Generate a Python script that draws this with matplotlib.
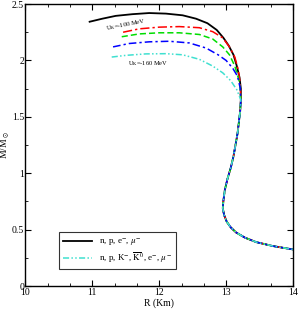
import matplotlib
matplotlib.use("Agg")
import numpy as np
import matplotlib.pyplot as plt
from matplotlib.ticker import MultipleLocator, FormatStrFormatter

plt.rcParams['font.family'] = ['Liberation Serif', 'DejaVu Serif']
plt.rcParams['mathtext.fontset'] = 'stix'

# rama inferior comun (R en km, M en masas solares)
low_R = [13.22, 13.21, 13.19, 13.17, 13.14, 13.11, 13.07, 13.02, 12.98, 12.96,
         12.95, 12.97, 13.01, 13.07, 13.15, 13.28, 13.45, 13.70, 14.0]
low_M = [1.65, 1.55, 1.45, 1.35, 1.25, 1.15, 1.05, 0.95, 0.85, 0.76,
         0.69, 0.63, 0.57, 0.52, 0.475, 0.43, 0.39, 0.355, 0.325]

# ramas superiores
npe_R = [10.96, 11.15, 11.35, 11.6, 11.85, 12.1, 12.35, 12.55, 12.72, 12.86,
         12.96, 13.04, 13.11, 13.16, 13.20, 13.22]
npe_M = [2.343, 2.37, 2.395, 2.41, 2.42, 2.415, 2.40, 2.37, 2.33, 2.27,
         2.20, 2.13, 2.05, 1.95, 1.85, 1.75]

u100_R = [11.46, 11.7, 12.0, 12.3, 12.6, 12.8, 12.95, 13.05, 13.13, 13.18, 13.21]
u100_M = [2.25, 2.28, 2.295, 2.30, 2.29, 2.255, 2.20, 2.12, 2.03, 1.92, 1.80]

u120_R = [11.44, 11.7, 12.0, 12.3, 12.6, 12.8, 12.95, 13.05, 13.13, 13.19, 13.21]
u120_M = [2.21, 2.235, 2.245, 2.245, 2.23, 2.19, 2.12, 2.05, 1.95, 1.83, 1.75]

u140_R = [11.31, 11.55, 11.85, 12.15, 12.45, 12.7, 12.88, 13.0, 13.1, 13.17, 13.21]
u140_M = [2.12, 2.15, 2.165, 2.17, 2.155, 2.11, 2.05, 2.0, 1.93, 1.86, 1.76]

u160_R = [11.29, 11.5, 11.8, 12.1, 12.35, 12.6, 12.8, 12.95, 13.07, 13.16]
u160_M = [2.03, 2.045, 2.058, 2.06, 2.05, 2.01, 1.95, 1.89, 1.82, 1.74]

fig = plt.figure(figsize=(2.99, 3.09), dpi=100)
ax = fig.add_axes([0.085, 0.074, 0.895, 0.913])

ax.plot(npe_R + low_R, npe_M + low_M, color='black', lw=1.3,
        label=r'n, p, e$^{-}$, $\mu^{-}$')
ax.plot(u100_R + low_R, u100_M + low_M, color='red', lw=1.1, dashes=(6, 2, 1.5, 2))
ax.plot(u120_R + low_R, u120_M + low_M, color='#00dd00', lw=1.1, dashes=(4, 2))
ax.plot(u140_R + low_R, u140_M + low_M, color='blue', lw=1.1, dashes=(5, 2, 1.5, 2))
ax.plot(u160_R + low_R, u160_M + low_M, color='#40e0d0', lw=1.1,
        dashes=(4, 1.5, 1, 1.5, 1, 1.5),
        label=r'n, p, K$^{-}$, $\overline{\rm K}^0$, e$^{-}$, $\mu^{-}$')

ax.text(11.2, 2.265, r'U$_{\rm K}$=-100 MeV', fontsize=4.6, rotation=11)
ax.text(11.53, 1.96, r'U$_{\rm K}$=-160 MeV', fontsize=4.6)

ax.set_xlim(10, 14)
ax.set_ylim(0, 2.5)
ax.xaxis.set_major_locator(MultipleLocator(1))
ax.xaxis.set_minor_locator(MultipleLocator(1 / 3))
ax.yaxis.set_major_locator(MultipleLocator(0.5))
ax.yaxis.set_minor_locator(MultipleLocator(0.25))
ax.yaxis.set_major_formatter(FormatStrFormatter('%g'))
ax.tick_params(which='both', direction='in', top=True, right=True, labelsize=7, pad=1)
ax.tick_params(which='major', length=4)
ax.tick_params(which='minor', length=2)
for s in ax.spines.values():
    s.set_linewidth(1.0)

ax.set_xlabel('R (Km)', fontsize=7, labelpad=1)
ax.set_ylabel(r'M/M$_\odot$', fontsize=7, labelpad=0)

leg = ax.legend(loc='lower left', bbox_to_anchor=(0.125, 0.06), fontsize=6.5,
                frameon=True, fancybox=False, edgecolor='black', handlelength=3.2,
                borderpad=0.45, labelspacing=0.35, borderaxespad=0)
leg.get_frame().set_linewidth(0.8)

fig.savefig('out.png', dpi=100)
